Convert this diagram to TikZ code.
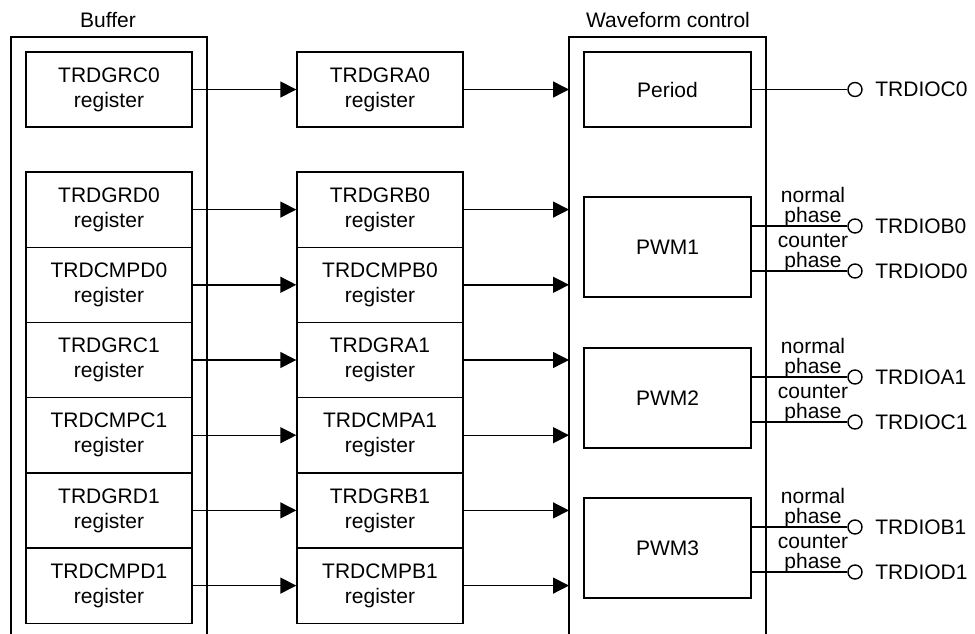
\documentclass[tikz,border=0pt]{standalone}
\usepackage{fontspec}
\setmainfont{Liberation Sans}
\usetikzlibrary{arrows.meta}
\begin{document}
\begin{tikzpicture}[x=1pt,y=-1pt,line width=1.4pt,
  every node/.style={font=\fontsize{21}{25}\selectfont},
  regbox/.style={draw,minimum width=166pt,minimum height=75.2pt,inner sep=0pt,align=center},
  wfbox/.style={draw,minimum width=167pt,minimum height=100pt,inner sep=0pt},
  arr/.style={-{Triangle[length=16pt,width=16pt]}},
  pin/.style={draw,circle,minimum size=14pt,inner sep=0pt},
  pinlabel/.style={anchor=west,inner sep=0pt},
  phaselabel/.style={anchor=south,inner sep=0pt,align=center,font=\fontsize{21}{20.5}\selectfont}]
\useasboundingbox (0,0) rectangle (975,634);
% outer frames
\draw (11,634) -- (11,37) -- (207,37) -- (207,634);
\draw (569,634) -- (569,37) -- (766,37) -- (766,634);
\coordinate (wfL) at (569,37);
\node (buflab) at (108,20) {Buffer};
\node (wflab) at (668,20) {Waveform control};
% buffer registers
\node[regbox] (b0) at (109,89.5) {TRDGRC0\\register};
\node[regbox] (b1) at (109,209.6) {TRDGRD0\\register};
\node[regbox] (b2) at (109,284.8) {TRDCMPD0\\register};
\node[regbox] (b3) at (109,360) {TRDGRC1\\register};
\node[regbox] (b4) at (109,435.2) {TRDCMPC1\\register};
\node[regbox] (b5) at (109,510.4) {TRDGRD1\\register};
\node[regbox] (b6) at (109,585.6) {TRDCMPD1\\register};
% general registers
\node[regbox] (m0) at (380,89.5) {TRDGRA0\\register};
\node[regbox] (m1) at (380,209.6) {TRDGRB0\\register};
\node[regbox] (m2) at (380,284.8) {TRDCMPB0\\register};
\node[regbox] (m3) at (380,360) {TRDGRA1\\register};
\node[regbox] (m4) at (380,435.2) {TRDCMPA1\\register};
\node[regbox] (m5) at (380,510.4) {TRDGRB1\\register};
\node[regbox] (m6) at (380,585.6) {TRDCMPB1\\register};
% waveform blocks
\node[wfbox,minimum height=75.2pt] (per) at (667.5,89.5) {Period};
\node[wfbox] (p1) at (667.5,247) {PWM1};
\node[wfbox] (p2) at (667.5,398) {PWM2};
\node[wfbox] (p3) at (667.5,548) {PWM3};
% arrows
\foreach \i in {0,...,6}{
  \draw[arr] (b\i.east) -- (m\i.west);
  \draw[arr] (m\i.east) -- (m\i.east -| wfL);
}
% output pins
\node[pin] (o0) at (855,89.5) {};
\node[pin] (o1) at (855,226) {};
\node[pin] (o2) at (855,271) {};
\node[pin] (o3) at (855,377) {};
\node[pin] (o4) at (855,422) {};
\node[pin] (o5) at (855,527) {};
\node[pin] (o6) at (855,572) {};
\draw (per.east) -- (o0.west);
\draw (o1.west -| p1.east) -- (o1.west);
\draw (o2.west -| p1.east) -- (o2.west);
\draw (o3.west -| p2.east) -- (o3.west);
\draw (o4.west -| p2.east) -- (o4.west);
\draw (o5.west -| p3.east) -- (o5.west);
\draw (o6.west -| p3.east) -- (o6.west);
\node[pinlabel] (t0) at ([xshift=12pt]o0.east) {TRDIOC0};
\node[pinlabel] (t1) at ([xshift=12pt]o1.east) {TRDIOB0};
\node[pinlabel] (t2) at ([xshift=12pt]o2.east) {TRDIOD0};
\node[pinlabel] (t3) at ([xshift=12pt]o3.east) {TRDIOA1};
\node[pinlabel] (t4) at ([xshift=12pt]o4.east) {TRDIOC1};
\node[pinlabel] (t5) at ([xshift=12pt]o5.east) {TRDIOB1};
\node[pinlabel] (t6) at ([xshift=12pt]o6.east) {TRDIOD1};
% phase labels
\node[phaselabel] (n1) at (813,228) {normal\\phase};
\node[phaselabel] (c1) at (813,273) {counter\\phase};
\node[phaselabel] (n2) at (813,379) {normal\\phase};
\node[phaselabel] (c2) at (813,424) {counter\\phase};
\node[phaselabel] (n3) at (813,529) {normal\\phase};
\node[phaselabel] (c3) at (813,574) {counter\\phase};
\end{tikzpicture}
\end{document}
